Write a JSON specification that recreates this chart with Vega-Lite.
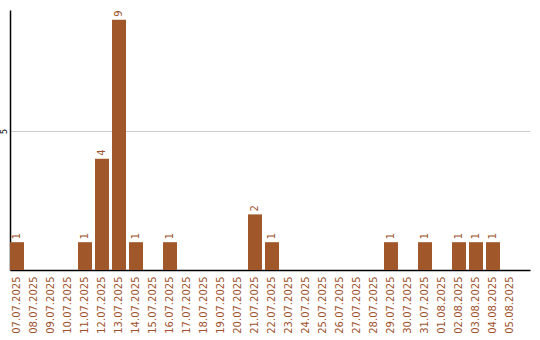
{
  "$schema": "https://vega.github.io/schema/vega-lite/v6.json",
  "autosize": {"type": "none"},
  "width": 520,
  "height": 260,
  "padding": {"left": 10, "top": 10, "right": 10, "bottom": 70},
  "background": "white",
  "config": {"view": {"stroke": null}},
  "data": {"values": [
    {"d": "07.07.2025", "v": 1},
    {"d": "08.07.2025", "v": 0},
    {"d": "09.07.2025", "v": 0},
    {"d": "10.07.2025", "v": 0},
    {"d": "11.07.2025", "v": 1},
    {"d": "12.07.2025", "v": 4},
    {"d": "13.07.2025", "v": 9},
    {"d": "14.07.2025", "v": 1},
    {"d": "15.07.2025", "v": 0},
    {"d": "16.07.2025", "v": 1},
    {"d": "17.07.2025", "v": 0},
    {"d": "18.07.2025", "v": 0},
    {"d": "19.07.2025", "v": 0},
    {"d": "20.07.2025", "v": 0},
    {"d": "21.07.2025", "v": 2},
    {"d": "22.07.2025", "v": 1},
    {"d": "23.07.2025", "v": 0},
    {"d": "24.07.2025", "v": 0},
    {"d": "25.07.2025", "v": 0},
    {"d": "26.07.2025", "v": 0},
    {"d": "27.07.2025", "v": 0},
    {"d": "28.07.2025", "v": 0},
    {"d": "29.07.2025", "v": 1},
    {"d": "30.07.2025", "v": 0},
    {"d": "31.07.2025", "v": 1},
    {"d": "01.08.2025", "v": 0},
    {"d": "02.08.2025", "v": 1},
    {"d": "03.08.2025", "v": 1},
    {"d": "04.08.2025", "v": 1},
    {"d": "05.08.2025", "v": 0}
  ]},
  "encoding": {
    "x": {
      "field": "d", "type": "nominal", "sort": null,
      "scale": {"paddingInner": 0.176, "paddingOuter": 0.382, "align": 0},
      "axis": {
        "title": null, "labelAngle": -90, "labelColor": "#A0522D",
        "labelFont": "DejaVu Sans", "labelFontSize": 10, "labelPadding": 6,
        "ticks": false, "domainColor": "#000000", "domainWidth": 1.5,
        "labelAlign": "right", "labelBaseline": "middle"
      }
    },
    "y": {
      "field": "v", "type": "quantitative",
      "scale": {"domain": [0, 9.35], "nice": false},
      "axis": {
        "title": null, "values": [5], "grid": true, "gridColor": "#cccccc",
        "ticks": false, "domainColor": "#000000", "domainWidth": 1.5,
        "labelAngle": -90, "labelFont": "DejaVu Sans", "labelFontSize": 8,
        "labelColor": "#000000", "labelPadding": 2, "labelAlign": "center", "labelBaseline": "bottom"
      }
    }
  },
  "layer": [
    {"mark": {"type": "bar", "color": "#A0582A"}},
    {
      "transform": [{"filter": "datum.v > 0"}],
      "mark": {"type": "text", "angle": -90, "align": "left", "baseline": "middle", "dx": 3, "color": "#A0522D", "font": "DejaVu Sans", "fontSize": 10},
      "encoding": {"text": {"field": "v", "type": "quantitative"}}
    }
  ]
}
